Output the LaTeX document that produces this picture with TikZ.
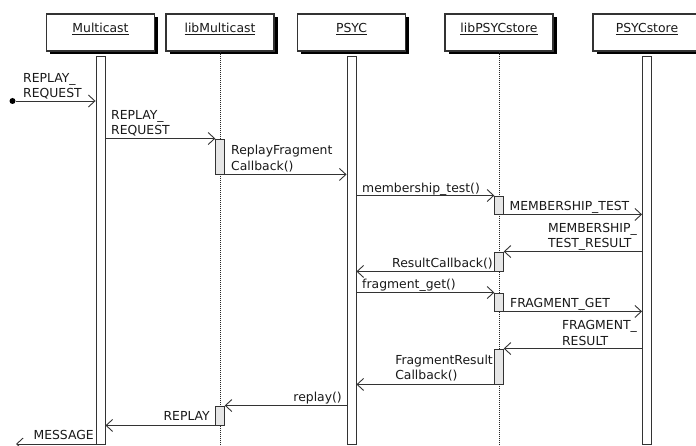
\documentclass[tikz,border=0pt]{standalone}
\usepackage{fontspec}
\setmainfont{DejaVu Sans}
\usetikzlibrary{arrows.meta,shadows}

\definecolor{ink}{HTML}{333333}
\definecolor{actfill}{HTML}{E6E6E6}

\tikzset{
  lbl/.style={font=\fontsize{12.4}{15.4}\selectfont, text=black!90,
    inner sep=0pt, text depth=0pt, align=left},
  hdr/.style={draw=ink, line width=1.1pt, fill=white,
    minimum width=108pt, minimum height=37pt, inner sep=0pt,
    drop shadow={shadow xshift=3.5pt, shadow yshift=-3.5pt, fill=black, opacity=1},
    font=\fontsize{12.4}{15.4}\selectfont, text=black!90,
    text height=9pt, text depth=9.4pt},
  lifebar/.style={draw=ink, line width=0.9pt, fill=white,
    minimum width=9pt, minimum height=388pt, inner sep=0pt},
  act/.style={draw=ink, line width=0.9pt, fill=actfill,
    minimum width=8.5pt, inner sep=0pt},
  dotline/.style={draw=black!85, line width=0.8pt, dash pattern=on 1pt off 1pt},
  msg/.style={draw=ink, line width=0.9pt,
    -{Straight Barb[length=6.5pt,width=12pt]}},
  startdot/.style={circle, fill=black, inner sep=0pt, minimum size=6pt},
}

\begin{document}
\begin{tikzpicture}[x=1pt, y=-1pt]
\useasboundingbox (0,0) rectangle (696,446);

% participants
\node[hdr] (hMC)  at (100.5,32.5) {\underline{Multicast}};
\node[hdr] (hLM)  at (220,32.5)   {\underline{libMulticast}};
\node[hdr] (hPS)  at (351.5,32.5) {\underline{PSYC}};
\node[hdr] (hLPS) at (499,32.5)   {\underline{libPSYCstore}};
\node[hdr] (hPSS) at (647,32.5)   {\underline{PSYCstore}};

% library lifelines (dotted)
\coordinate (lmEnd)  at (220,446);
\coordinate (lpsEnd) at (499,446);
\draw[dotline] (hLM.south) -- (lmEnd);
\draw[dotline] (hLPS.south) -- (lpsEnd);

% service lifelines (always active)
\node[lifebar] (mcBar)  at (100.5,250) {};
\node[lifebar] (psBar)  at (351.5,250) {};
\node[lifebar] (pssBar) at (647,250) {};

% activations of the libraries
\node[act, minimum height=35pt] (lm1) at (220,156.5) {};
\node[act, minimum height=19pt] (lm2) at (220,415.5) {};
\node[act, minimum height=18pt] (ls1) at (499,205) {};
\node[act, minimum height=19pt] (ls2) at (499,261.5) {};
\node[act, minimum height=18pt] (ls3) at (499,302) {};
\node[act, minimum height=35pt] (ls4) at (499,366.5) {};

% incoming request
\node[startdot] (start) at (12.5,101) {};
\draw[msg] (start) -- (start -| mcBar.west);
\node[lbl, anchor=south west] (l1) at (23,98) {REPLAY\_\\REQUEST};

\draw[msg] (mcBar.east |- lm1.north) -- (lm1.north west);
\node[lbl, anchor=south west] (l2) at (111,135) {REPLAY\_\\REQUEST};

\draw[msg] (lm1.south east) -- (lm1.south east -| psBar.west);
\node[lbl, anchor=south west] (l3) at (231,170.5) {ReplayFragment\\Callback()};

\draw[msg] (psBar.east |- ls1.north) -- (ls1.north west);
\node[lbl, anchor=south west] (l4) at (362,192.3) {membership\_test()};

\draw[msg] (ls1.south east) -- (ls1.south east -| pssBar.west);
\node[lbl, anchor=south west] (l5) at (509.5,211) {MEMBERSHIP\_TEST};

\draw[msg] (pssBar.west |- ls2.north) -- (ls2.north east);
\node[lbl, anchor=south east] (l6) at (637,248) {MEMBERSHIP\_\\TEST\_RESULT};

\draw[msg] (ls2.south west) -- (ls2.south west -| psBar.east);
\node[lbl, anchor=south east] (l7) at (493,268) {ResultCallback()};

\draw[msg] (psBar.east |- ls3.north) -- (ls3.north west);
\node[lbl, anchor=south west] (l8) at (362,288.5) {fragment\_get()};

\draw[msg] (ls3.south east) -- (ls3.south east -| pssBar.west);
\node[lbl, anchor=south west] (l9) at (510,307.3) {FRAGMENT\_GET};

\draw[msg] (pssBar.west |- ls4.north) -- (ls4.north east);
\node[lbl, anchor=south east] (l10) at (637,345.3) {FRAGMENT\_\\RESULT};

\draw[msg] (ls4.south west) -- (ls4.south west -| psBar.east);
\node[lbl, anchor=south east] (l11) at (493,380) {FragmentResult\\Callback()};

\draw[msg] (psBar.west |- lm2.north) -- (lm2.north east);
\node[lbl, anchor=south east] (l12) at (342,401.7) {replay()};

\draw[msg] (lm2.south west) -- (lm2.south west -| mcBar.east);
\node[lbl, anchor=south east] (l13) at (210,421) {REPLAY};

% outgoing message
\coordinate (lost) at (16,444);
\draw[msg] (mcBar.west |- lost) -- (lost);
\node[lbl, anchor=south east] (l14) at (94,440) {MESSAGE};
\end{tikzpicture}
\end{document}
